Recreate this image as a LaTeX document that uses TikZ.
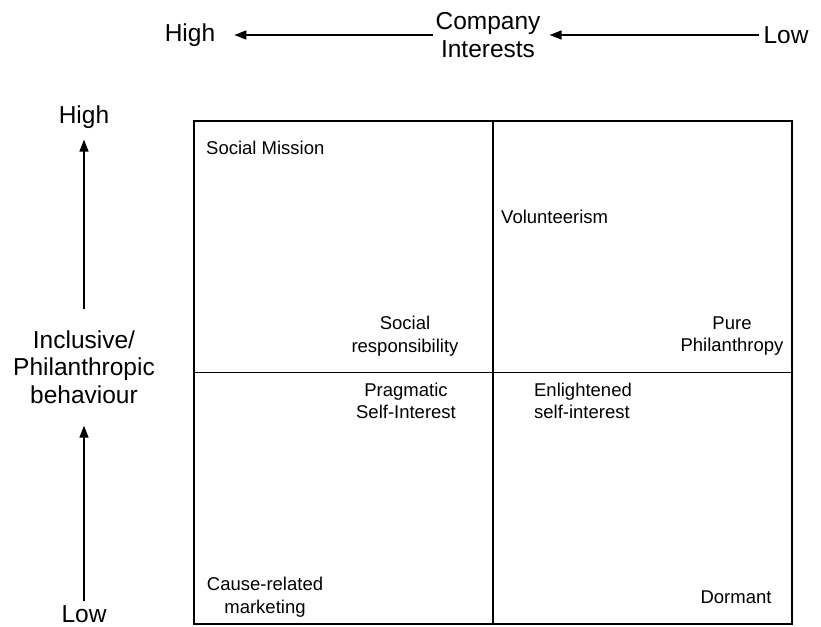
\documentclass[tikz,border=0pt]{standalone}
\usepackage{fontspec}
\setmainfont{Liberation Sans}
\usetikzlibrary{arrows.meta, positioning}

\begin{document}
\begin{tikzpicture}[
  x=1pt, y=-1pt,
  axis/.style={font=\fontsize{24.5}{27.5}\selectfont, align=center, inner sep=2pt},
  quad/.style={font=\fontsize{18.5}{22.5}\selectfont, align=center, inner sep=0pt},
  arr/.style={-{Triangle[length=12pt, width=9pt]}, line width=1.4pt},
  grid/.style={draw, line width=1.6pt, minimum width=598pt, minimum height=503pt},
]
\useasboundingbox (0,0) rectangle (821,626);

% --- company interests axis ---
\node[axis] (interests) at (488,35) {Company\\Interests};
\node[axis] (tophigh) at (190,35) {High};
\node[axis] (toplow) at (786,35) {Low};
\draw[arr, shorten >=17pt] (interests.west) -- (tophigh.east);
\draw[arr, shorten <=2pt, shorten >=7pt] (toplow.west) -- (interests.east);

% --- behaviour axis ---
\node[axis] (behaviour) at (84,367) {Inclusive/\\Philanthropic\\behaviour};
\node[axis] (lefthigh) at (84,117) {High};
\node[axis] (leftlow) at (84,614) {Low};
\draw[arr, shorten <=19pt, shorten >=9pt] (behaviour.north) -- (lefthigh.south);
\draw[arr, shorten <=2pt, shorten >=20pt] (leftlow.north) -- (behaviour.south);

% --- quadrants ---
\node[grid] (box) at (493,372.5) {};
\draw[line width=1.6pt] (box.north) -- (box.south);
\draw[line width=1.6pt] (box.west) -- (box.east);

\node[quad, anchor=west] (mission) at (206,148) {Social Mission};
\node[quad, anchor=west] (volunteer) at (501,217) {Volunteerism};
\node[quad] (socresp) at (405,336) {Social\\responsibility};
\node[quad] (pure) at (732,336) {Pure\\Philanthropy};
\node[quad] (pragmatic) at (406,401) {Pragmatic\\Self-Interest};
\node[quad, align=left] (enlight) at (583,401) {Enlightened\\self-interest};
\node[quad] (cause) at (265,597) {Cause-related\\marketing};
\node[quad] (dormant) at (736,597) {Dormant};

\end{tikzpicture}
\end{document}
